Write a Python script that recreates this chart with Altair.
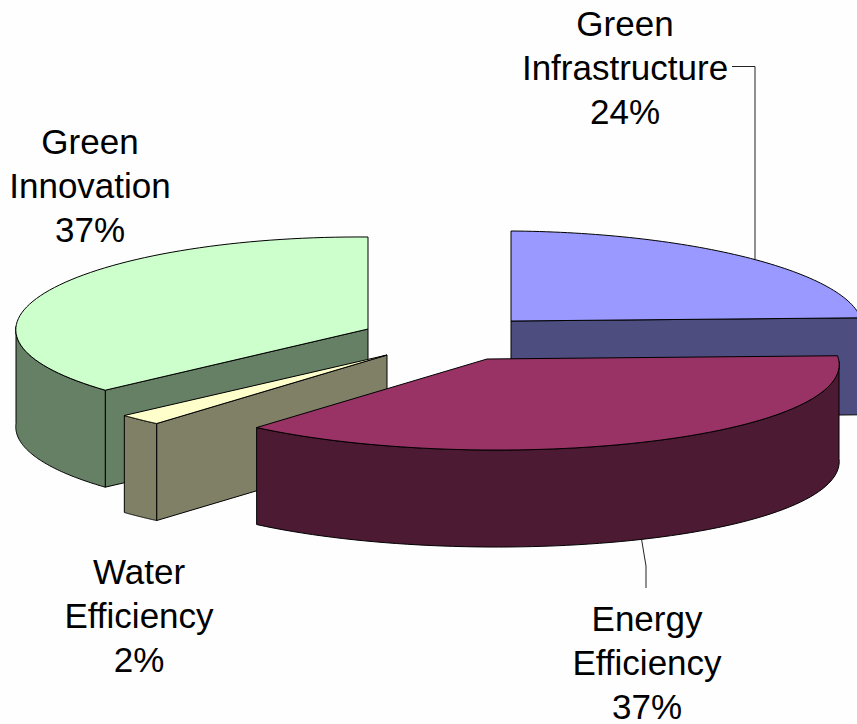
import math
import altair as alt
import pandas as pd

# Slice shares in percent, clockwise from twelve o'clock.
names = ["Green\nInfrastructure", "Energy\nEfficiency", "Water\nEfficiency", "Green\nInnovation"]
shares = [24, 37, 2, 37]
top_colors = ["#9999FF", "#993366", "#FFFFCC", "#CCFFCC"]
side_colors = ["#4D4D80", "#4D1A33", "#808066", "#668066"]

# Exploded slice geometry: apex, ellipse radii.
apex = [(511, 321), (487, 359), (387, 355), (368, 329)]
radii = [(351, 90), (352, 91), (352, 91), (352, 92)]
DEPTH = 97
PERSPECTIVE = 0.00038
ROLL = 0.007

# Back-to-front painting order of the slices.
paint_order = [3, 0, 2, 1]

# Centre of each label's first line.
label_anchor = [(625, 25), (647, 620), (139, 573), (90, 143)]
LEADERS = [
    [(732, 66.5), (755, 66.5), (755, 262)],
    [(640, 530), (646, 566), (646, 588)],
]
FONT_SIZE = 35
LINE_HEIGHT = 44


def rim(i, theta):
    cx, cy = apex[i]
    rx, ry = radii[i]
    dy = -ry * math.cos(theta)
    across = rx * math.sin(theta)
    return (cx + across * (1 + PERSPECTIVE * dy), cy + dy + ROLL * across)


def arc(i, a, b, steps=72):
    return [rim(i, a + (b - a) * s / steps) for s in range(steps + 1)]


def polygon(points, fill, rank):
    ring = [list(p) for p in points] + [list(points[0])]
    return {
        "type": "Feature",
        "geometry": {"type": "Polygon", "coordinates": [ring]},
        "properties": {"fill": fill, "rank": rank},
    }


def line(points, rank):
    return {
        "type": "Feature",
        "geometry": {"type": "LineString", "coordinates": [list(p) for p in points]},
        "properties": {"rank": rank},
    }


def drop(points):
    return [(x, y + DEPTH) for x, y in points]


# Turn the shares into slice polygons: cut faces, outer wall, then top face.
starts = {}
running = 0.0
for i, s in enumerate(shares):
    starts[i] = (running * math.tau / 100, (running + s) * math.tau / 100)
    running += s

features = []
rank = 0
for i in paint_order:
    a, b = starts[i]
    tip = apex[i]
    if a > math.pi:
        edge = [tip, rim(i, a)]
        features.append(polygon(edge + drop(edge)[::-1], side_colors[i], rank))
        rank += 1
    if b < math.pi:
        edge = [tip, rim(i, b)]
        features.append(polygon(edge + drop(edge)[::-1], side_colors[i], rank))
        rank += 1
    lo, hi = max(a, math.pi / 2), min(b, 3 * math.pi / 2)
    if hi > lo:
        wall = arc(i, lo, hi)
        features.append(polygon(wall + drop(wall)[::-1], side_colors[i], rank))
        rank += 1
    features.append(polygon([tip] + arc(i, a, b), top_colors[i], rank))
    rank += 1

projection = alt.Projection(type="identity", scale=1, translate=[0, 0])

leader_layer = (
    alt.Chart(alt.Data(values=[line(p, k) for k, p in enumerate(LEADERS)]))
    .mark_geoshape(filled=False, stroke="#222222", strokeWidth=1)
    .project(**projection.to_dict())
)

pie_layer = (
    alt.Chart(alt.Data(values=features))
    .mark_geoshape(stroke="#000000", strokeWidth=1, strokeJoin="round")
    .encode(
        fill=alt.Fill("properties.fill:N", scale=None),
        order=alt.Order("properties.rank:Q"),
    )
    .project(**projection.to_dict())
)

labels = pd.DataFrame(
    {
        "text": [f"{n}\n{s}%" for n, s in zip(names, shares)],
        "x": [p[0] for p in label_anchor],
        "y": [p[1] for p in label_anchor],
    }
)

label_layer = (
    alt.Chart(labels)
    .mark_text(
        font="Liberation Sans",
        fontSize=FONT_SIZE,
        lineBreak="\n",
        lineHeight=LINE_HEIGHT,
        align="center",
        baseline="middle",
        color="#000000",
    )
    .encode(
        x=alt.X("x:Q", scale=None, axis=None),
        y=alt.Y("y:Q", scale=None, axis=None),
        text="text:N",
    )
)

chart = (
    alt.layer(leader_layer, pie_layer, label_layer)
    .properties(width=857, height=724, padding=0, background="#FEFEFE")
    .configure_view(stroke=None)
)

chart.save("out.html", embed_options={"renderer": "svg", "actions": False})
